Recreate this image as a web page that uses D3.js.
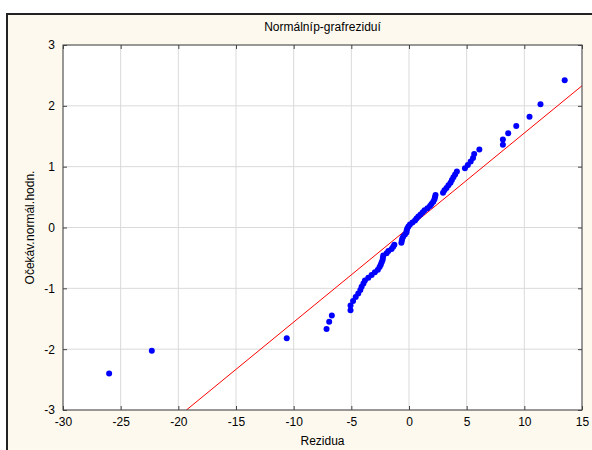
<!DOCTYPE html>
<html>
<head>
<meta charset="utf-8">
<script src="https://cdn.jsdelivr.net/npm/d3@7"></script>
<style>
  body { margin: 0; background: #ffffff; }
  text { font-family: "Liberation Sans", Arial, sans-serif; fill: #000; }
</style>
</head>
<body>
<div id="chart"></div>
<script>
// residuals (x), sorted
const residuals = [
  -26.0, -22.3, -10.6, -7.15, -6.92, -6.69, -5.07, -5.07, -4.85, -4.62,
  -4.40, -4.22, -4.11, -3.95, -3.82, -3.53, -3.24, -2.96, -2.70, -2.55,
  -2.45, -2.37, -2.29, -2.26, -2.23, -1.94, -1.79, -1.51, -1.37, -1.27,
  -0.66, -0.62, -0.58, -0.50, -0.35, -0.22, -0.20, -0.15, -0.05, 0.08,
  0.30, 0.52, 0.65, 0.81, 1.00, 1.19, 1.35, 1.60, 1.82, 1.95,
  2.10, 2.20, 2.25, 2.30, 2.95, 3.07, 3.25, 3.42, 3.60, 3.72,
  3.85, 4.00, 4.15, 4.85, 5.10, 5.35, 5.55, 5.65, 6.10, 8.14,
  8.14, 8.60, 9.30, 10.45, 11.4, 13.5
];
// expected normal values (y)
const expected = [
  -2.400, -2.027, -1.819, -1.669, -1.549, -1.448, -1.360, -1.282, -1.210, -1.144,
  -1.083, -1.026, -0.972, -0.920, -0.871, -0.824, -0.779, -0.735, -0.693, -0.651,
  -0.611, -0.572, -0.534, -0.496, -0.460, -0.423, -0.388, -0.352, -0.318, -0.283,
  -0.249, -0.215, -0.182, -0.148, -0.115, -0.082, -0.049, -0.016, 0.016, 0.049,
  0.082, 0.115, 0.148, 0.182, 0.215, 0.249, 0.283, 0.318, 0.352, 0.388,
  0.423, 0.460, 0.496, 0.534, 0.572, 0.611, 0.651, 0.693, 0.735, 0.779,
  0.824, 0.871, 0.920, 0.972, 1.026, 1.083, 1.144, 1.210, 1.282, 1.360,
  1.448, 1.549, 1.669, 1.819, 2.027, 2.420
];
// reference line end points
const refLineX = [-19.3, 15];
const refLineY = [-3, 2.33];

const xTicks = [-30, -25, -20, -15, -10, -5, 0, 5, 10, 15];
const yTicks = [-3, -2, -1, 0, 1, 2, 3];

const W = 592, H = 450;
const margin = { top: 45, right: 10, bottom: 40, left: 63 };
const width = W - margin.left - margin.right;
const height = H - margin.top - margin.bottom;

const svg = d3.select("#chart").append("svg")
  .attr("width", W)
  .attr("height", H);

// outer frame
svg.append("rect")
  .attr("x", 7).attr("y", 14)
  .attr("width", W).attr("height", H)
  .attr("fill", "#fdf9ee")
  .attr("stroke", "#222")
  .attr("stroke-width", 2);

const g = svg.append("g")
  .attr("transform", `translate(${margin.left},${margin.top})`);

const x = d3.scaleLinear().domain([-30, 15]).range([0, width]);
const y = d3.scaleLinear().domain([-3, 3]).range([height, 0]);

g.append("rect")
  .attr("width", width).attr("height", height)
  .attr("fill", "#fff");

// grid
g.append("g").selectAll("line").data(xTicks).join("line")
  .attr("x1", d => x(d)).attr("x2", d => x(d))
  .attr("y1", 0).attr("y2", height)
  .attr("stroke", "#dadada").attr("stroke-width", 1);
g.append("g").selectAll("line").data(yTicks).join("line")
  .attr("y1", d => y(d)).attr("y2", d => y(d))
  .attr("x1", 0).attr("x2", width)
  .attr("stroke", "#dadada").attr("stroke-width", 1);

// axes
const fmt = d => String(d);
const xAxis = d3.axisBottom(x).tickValues(xTicks).tickFormat(fmt).tickSizeInner(-4).tickSizeOuter(0).tickPadding(7);
const yAxis = d3.axisLeft(y).tickValues(yTicks).tickFormat(fmt).tickSizeInner(-4).tickSizeOuter(0).tickPadding(8);

g.append("g").attr("transform", `translate(0,${height})`).call(xAxis)
  .call(a => a.select(".domain").remove())
  .call(a => a.selectAll("text").attr("font-size", 12).style("font-family", "Liberation Sans, Arial"));
g.append("g").call(yAxis)
  .call(a => a.select(".domain").remove())
  .call(a => a.selectAll("text").attr("font-size", 12).style("font-family", "Liberation Sans, Arial"));
g.append("g").attr("transform", `translate(${width},0)`)
  .call(d3.axisRight(y).tickValues(yTicks).tickSizeInner(-4).tickSizeOuter(0).tickFormat(""))
  .call(a => a.select(".domain").remove());
g.append("g")
  .call(d3.axisTop(x).tickValues(xTicks).tickSizeInner(-4).tickSizeOuter(0).tickFormat(""))
  .call(a => a.select(".domain").remove());
g.selectAll(".tick line").attr("stroke", "#444");

// reference line
g.append("clipPath").attr("id", "clip")
  .append("rect").attr("width", width).attr("height", height);
g.append("line")
  .attr("clip-path", "url(#clip)")
  .attr("x1", x(refLineX[0])).attr("y1", y(refLineY[0]))
  .attr("x2", x(refLineX[1])).attr("y2", y(refLineY[1]))
  .attr("stroke", "#ff0000").attr("stroke-width", 1);

// points
g.append("g").selectAll("circle").data(residuals).join("circle")
  .attr("cx", d => x(d))
  .attr("cy", (d, i) => y(expected[i]))
  .attr("r", 3)
  .attr("fill", "#0000ff");

// plot border
g.append("rect")
  .attr("width", width).attr("height", height)
  .attr("fill", "none").attr("stroke", "#444").attr("stroke-width", 1);

// titles
svg.append("text")
  .attr("x", margin.left + width / 2).attr("y", 31)
  .attr("text-anchor", "middle").attr("font-size", 12)
  .attr("word-spacing", -3)
  .text("Normální p-graf reziduí");
svg.append("text")
  .attr("x", margin.left + width / 2).attr("y", 445)
  .attr("text-anchor", "middle").attr("font-size", 12)
  .text("Rezidua");
svg.append("text")
  .attr("transform", `translate(34,${margin.top + height / 2}) rotate(-90)`)
  .attr("text-anchor", "middle").attr("font-size", 12)
  .attr("word-spacing", -3)
  .text("Očekáv. normál. hodn.");
</script>
</body>
</html>
